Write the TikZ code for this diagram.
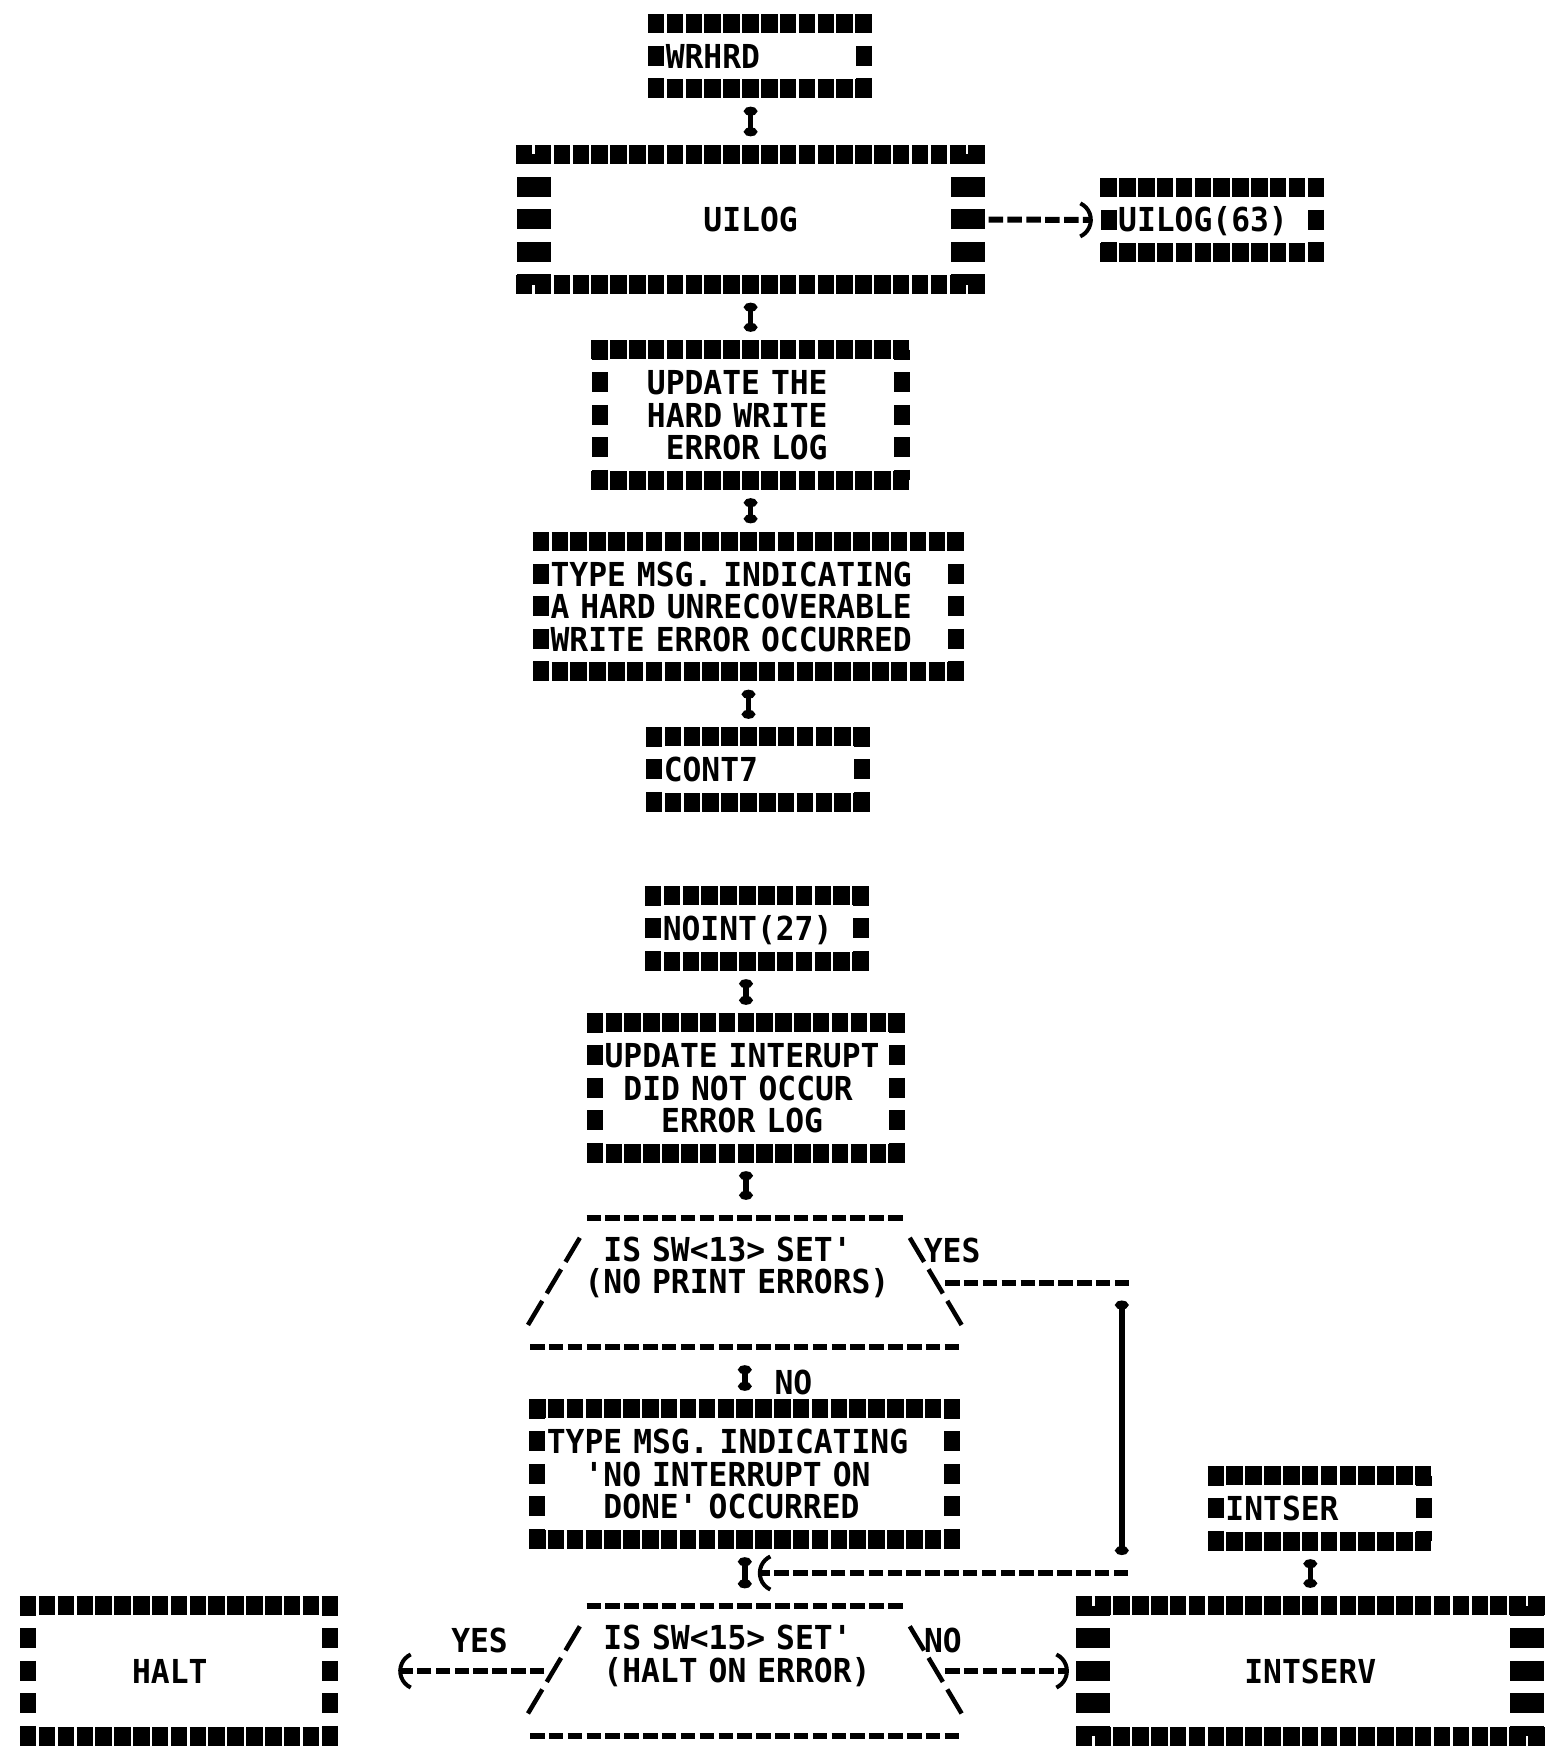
\documentclass[tikz,border=0pt]{standalone}
\usepackage{fontspec}
\usetikzlibrary{arrows.meta}
\newfontfamily\lpfont[FakeStretch=0.9488]{DejaVu Sans Mono}
\newlength\colw
\setlength\colw{18.85pt}
\newcommand\skipcols[1]{\hspace*{#1\colw}}
\newcommand\rowstrut{\rule[-4.25pt]{0pt}{32.5pt}}

\begin{document}
\begin{tikzpicture}[x=1pt, y=-1pt,
  every node/.style={inner sep=0pt, font=\lpfont\bfseries\fontsize{33pt}{32.5pt}\selectfont\frenchspacing},
  starrow/.style={line width=19pt, dash pattern=on 16.5pt off 2.35pt, dash phase=17.65pt, shorten <=-9.43pt, shorten >=-9.43pt},
  starcol/.style={line width=16pt, dash pattern=on 20pt off 12.5pt, dash phase=10pt},
  dashrow/.style={line width=6pt, dash pattern=on 14.5pt off 4.35pt, dash phase=16.65pt},
  slashes/.style={line width=4.5pt, dash pattern=on 28pt off 8.7pt},
  narrow/.style={minimum width=207.35pt, text width=188.5pt, minimum height=65pt},
  mid/.style={minimum width=301.6pt, text width=282.75pt, minimum height=130pt},
  wide/.style={minimum width=414.7pt, text width=395.85pt, minimum height=130pt},
  widest/.style={minimum width=452.4pt, text width=433.55pt, minimum height=130pt},
  starbox/.style={align=left, append after command={
      (\tikzlastnode.north west) edge[starrow] (\tikzlastnode.north east)
      (\tikzlastnode.south west) edge[starrow] (\tikzlastnode.south east)
      (\tikzlastnode.north west) edge[starcol] (\tikzlastnode.south west)
      (\tikzlastnode.north east) edge[starcol] (\tikzlastnode.south east)}},
  dblbox/.style={align=left, append after command={
      (\tikzlastnode.north west) edge[starrow] (\tikzlastnode.north east)
      (\tikzlastnode.south west) edge[starrow] (\tikzlastnode.south east)
      ([xshift=9.43pt]\tikzlastnode.north west) edge[starcol, line width=34pt] ([xshift=9.43pt]\tikzlastnode.south west)
      ([xshift=-9.43pt]\tikzlastnode.north east) edge[starcol, line width=34pt] ([xshift=-9.43pt]\tikzlastnode.south east)}},
  decision/.style={align=left, minimum width=433.55pt, text width=320.45pt, minimum height=129pt,
    append after command={
      ([xshift=56.55pt]\tikzlastnode.north west) edge[dashrow] ([xshift=-56.55pt]\tikzlastnode.north east)
      (\tikzlastnode.south west) edge[dashrow] (\tikzlastnode.south east)
      ([shift={(52pt,-20pt)}]\tikzlastnode.north west) edge[slashes] ([yshift=22pt]\tikzlastnode.south west)
      ([shift={(-52pt,-20pt)}]\tikzlastnode.north east) edge[slashes] ([yshift=22pt]\tikzlastnode.south east)}},
  vline/.style={line width=5.5pt, shorten <=18pt, shorten >=18pt, {Circle[length=9pt,width=13pt]}-{Circle[length=9pt,width=13pt]}},
  dashline/.style={dashrow},
  paren/.style={-{Arc Barb[scale=1.5, arc=130, line width=4pt]}}
]
\fill[white] (0,0) rectangle (1550,1748);
\useasboundingbox (0,0) rectangle (1550,1748);

% write error path
\node[starbox, narrow] (wrhrd) at (760,56) {\rowstrut WRHRD};
\node[dblbox, widest] (uilog) at (750.6,219.5) {\rowstrut\skipcols{9}UILOG};
\node[starbox, narrow] (uilog63) at (1212.4,220) {\rowstrut UILOG(63)};
\node[starbox, mid] (upd1) at (750.6,415) {\rowstrut\skipcols{2}UPDATE THE\\\skipcols{2}HARD WRITE\\\skipcols{3}ERROR LOG\rowstrut};
\node[starbox, wide] (msg1) at (748.5,606.5) {\rowstrut TYPE MSG. INDICATING\\A HARD UNRECOVERABLE\\WRITE ERROR OCCURRED\rowstrut};
\node[starbox, narrow] (cont7) at (758,769.5) {\rowstrut CONT7};

\draw[vline] (uilog.north |- wrhrd.south) -- (uilog.north);
\draw[vline] (uilog.south) -- (uilog.south |- upd1.north);
\draw[vline] (upd1.south) -- (upd1.south |- msg1.north);
\draw[vline] (msg1.south) -- (msg1.south |- cont7.north);
\draw[dashline, paren, shorten <=-9.43pt, shorten >=15.7pt] (uilog.east) -- (uilog63.west);

% interrupt path
\node[starbox, narrow] (noint) at (757,928.5) {\rowstrut NOINT(27)};
\node[starbox, mid] (upd2) at (746,1088) {\rowstrut UPDATE INTERUPT\\\skipcols{1}DID NOT OCCUR\\\skipcols{3}ERROR LOG\rowstrut};
\node[decision] (dec1) at (744.8,1282.5) {\rowstrut\skipcols{1}IS SW<13> SET'\\(NO PRINT ERRORS)\\\rowstrut};
\node (yes1) at (952.1,1250) {\rowstrut YES};
\node[starbox, wide] (msg2) at (744.8,1474) {\rowstrut TYPE MSG. INDICATING\\\skipcols{2}'NO INTERRUPT ON\\\skipcols{3}DONE' OCCURRED\rowstrut};
\node[decision] (dec2) at (744.8,1671) {\rowstrut\skipcols{1}IS SW<15> SET'\\\skipcols{1}(HALT ON ERROR)\\\rowstrut};
\node[starbox, mid] (halt) at (179.2,1671) {\rowstrut\skipcols{5}HALT};
\node[starbox, narrow] (intser) at (1319.7,1508.5) {\rowstrut INTSER};
\node[dblbox, widest] (intserv) at (1310.3,1671) {\rowstrut\skipcols{8}INTSERV};

\coordinate (yesturn) at (1121.8,1282.5);
\coordinate (backturn) at (1121.8,1573);

\draw[vline] (upd2.north |- noint.south) -- (upd2.north);
\draw[vline] (upd2.south) -- (upd2.south |- dec1.north);
\draw[vline] (dec1.south) -- node[pos=0.57, right=27pt] (no1) {\rowstrut NO} (dec1.south |- msg2.north);
\draw[dashline, shorten >=-8.6pt] ([xshift=-18.85pt]dec1.east) -- (yesturn);
\draw[vline] (yesturn) -- (backturn);
\draw[dashline, paren, shorten <=-8.6pt, shorten >=13pt] (backturn) -- (msg2.south |- backturn);
\draw[vline] (msg2.south) -- (msg2.south |- dec2.north);
\draw[dashline, paren, shorten >=68pt] ([xshift=18.85pt]dec2.west) -- node[pos=0.31, yshift=31pt] (yes2) {\rowstrut YES} (halt.east);
\draw[dashline, paren, shorten >=15pt] ([xshift=-18.85pt]dec2.east) -- node[pos=0, yshift=31pt] (no2) {\rowstrut NO} (intserv.west);
\draw[vline] (intserv.north |- intser.south) -- (intserv.north);
\end{tikzpicture}
\end{document}
